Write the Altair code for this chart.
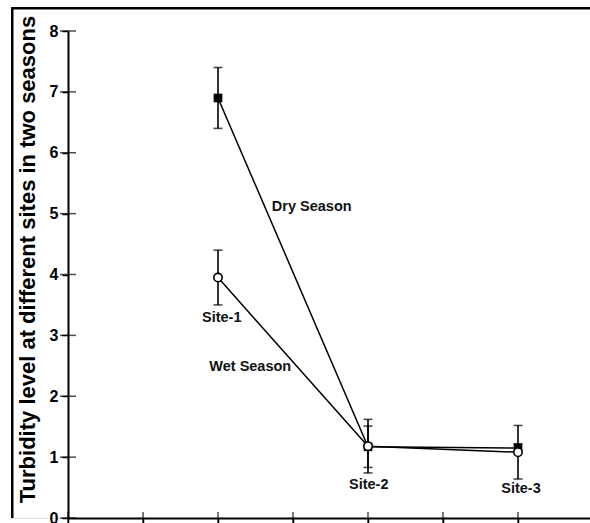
import altair as alt
import pandas as pd

# ---- data ----
site_names = ["Site-1", "Site-2", "Site-3"]
site_x = [2, 4, 6]
dry_mean = [6.9, 1.17, 1.15]
dry_err = [0.5, 0.34, 0.07]
wet_mean = [3.95, 1.18, 1.08]
wet_err = [0.45, 0.44, 0.44]

y_ticks = [0, 1, 2, 3, 4, 5, 6, 7, 8]
x_ticks = [0, 1, 2, 3, 4, 5, 6]

# annotation positions (data units)
ann_text = ["Dry Season", "Wet Season", "Site-1", "Site-2", "Site-3"]
ann_x = [3.25, 2.43, 2.05, 4.01, 6.04]
ann_y = [5.11, 2.48, 3.29, 0.54, 0.48]

FONT = "Liberation Sans"
# the view is the framed box; the data axes sit inside it
VW, VH = 579, 511          # view (frame) size
AX_L, AX_T = 57, 24        # data-area offset inside the frame
XMAX = (VW - AX_L) / 75.0

rows = []
for s, x, m, e in zip(site_names, site_x, dry_mean, dry_err):
    rows.append(dict(season="Dry", site=s, x=x, v=m, lo=m - e, hi=m + e))
for s, x, m, e in zip(site_names, site_x, wet_mean, wet_err):
    rows.append(dict(season="Wet", site=s, x=x, v=m, lo=m - e, hi=m + e))
df = pd.DataFrame(rows)

xs = alt.Scale(domain=[0, XMAX], range=[AX_L, VW], nice=False, zero=False)
ys = alt.Scale(domain=[0, 8], range=[VH, AX_T], nice=False, zero=False)

x_axis = alt.Axis(values=x_ticks, labels=False, title=None, tickSize=6,
                  tickWidth=1.5, domainWidth=2, domainColor="black",
                  tickColor="black", grid=False)
y_axis = alt.Axis(values=y_ticks, format="d", offset=-AX_L,
                  title="Turbidity level at different sites in two seasons",
                  titleFont=FONT, titleFontSize=22, titleFontWeight="bold",
                  titleColor="black", titlePadding=10, titleY=252,
                  labelFont=FONT, labelFontSize=16, labelFontWeight="bold",
                  labelColor="black", labelPadding=4, tickSize=6, tickWidth=1.5,
                  domainWidth=2, domainColor="black", tickColor="black", grid=False)

# inward parts of the axis ticks (crossing ticks)
yt_df = pd.DataFrame(dict(v=y_ticks, z=[0] * len(y_ticks)))
ytick_in = alt.Chart(yt_df).mark_tick(orient="horizontal", color="black", size=16,
                                      thickness=1.5).encode(
    y=alt.Y("v:Q", scale=ys, axis=y_axis), x=alt.X("z:Q", scale=xs, axis=x_axis))
xt_df = pd.DataFrame(dict(v=x_ticks, z=[0] * len(x_ticks)))
xtick_in = alt.Chart(xt_df).mark_tick(orient="vertical", color="black", size=12,
                                      thickness=1.5).encode(
    x=alt.X("v:Q", scale=xs), y=alt.Y("z:Q", scale=ys))

# decorative frame: left and top edges of the box
one = pd.DataFrame(dict(a=[0]))
frame_left = alt.Chart(one).mark_rule(color="black", strokeWidth=2.5).encode(
    x=alt.value(1.25), y=alt.value(0), y2=alt.value(VH))
frame_top = alt.Chart(one).mark_rule(color="black", strokeWidth=2.5).encode(
    x=alt.value(0), x2=alt.value(VW), y=alt.value(1.25))

base = alt.Chart(df)

err = base.mark_rule(color="black", strokeWidth=1.6).encode(
    x=alt.X("x:Q", scale=xs), y=alt.Y("lo:Q", scale=ys), y2="hi:Q")
cap_lo = base.mark_tick(orient="horizontal", color="black", size=9, thickness=1.6).encode(
    x=alt.X("x:Q", scale=xs), y=alt.Y("lo:Q", scale=ys))
cap_hi = base.mark_tick(orient="horizontal", color="black", size=9, thickness=1.6).encode(
    x=alt.X("x:Q", scale=xs), y=alt.Y("hi:Q", scale=ys))

lines = base.mark_line(color="black", strokeWidth=1.5).encode(
    x=alt.X("x:Q", scale=xs), y=alt.Y("v:Q", scale=ys), detail="season:N")

dry_pts = base.transform_filter(alt.datum.season == "Dry").mark_point(
    shape="square", filled=True, color="black", size=75, opacity=1).encode(
    x=alt.X("x:Q", scale=xs), y=alt.Y("v:Q", scale=ys))
wet_pts = base.transform_filter(alt.datum.season == "Wet").mark_point(
    shape="circle", filled=True, fill="white", stroke="black", strokeWidth=1.6,
    size=70, opacity=1).encode(
    x=alt.X("x:Q", scale=xs), y=alt.Y("v:Q", scale=ys))

ann_df = pd.DataFrame(dict(t=ann_text, x=ann_x, y=ann_y))
ann = alt.Chart(ann_df).mark_text(font=FONT, fontSize=14.5, fontWeight="bold",
                                  color="#111111", baseline="middle").encode(
    x=alt.X("x:Q", scale=xs), y=alt.Y("y:Q", scale=ys), text="t:N")

chart = alt.layer(
    ytick_in, xtick_in, frame_left, frame_top,
    err, cap_lo, cap_hi, lines, dry_pts, wet_pts, ann
).properties(
    width=VW, height=VH,
    autosize=alt.AutoSizeParams(type="none"),
    padding={"left": 11, "top": 7, "right": 0, "bottom": 5},
).configure_view(stroke=None).configure(background="white")

chart.save("out.html", embed_options={"renderer": "svg", "actions": False})
